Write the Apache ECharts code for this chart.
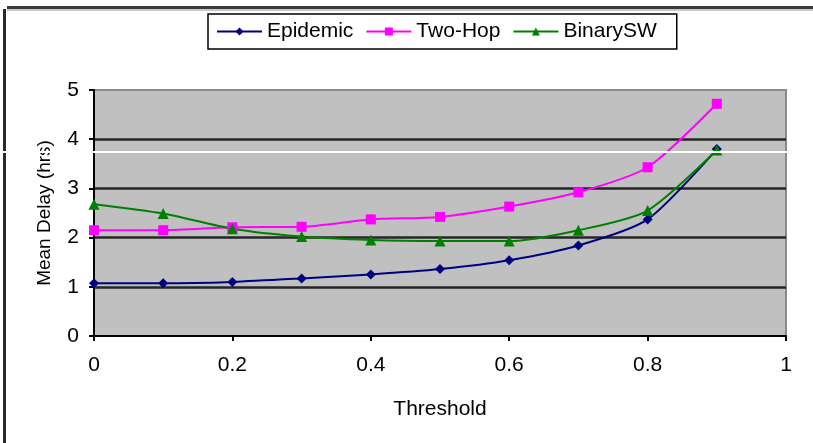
<!DOCTYPE html>
<html>
<head>
<meta charset="utf-8">
<script src="https://cdn.jsdelivr.net/npm/echarts@6/dist/echarts.min.js"></script>
<style>
  html, body { margin: 0; padding: 0; background: #fff; }
  #chart { width: 813px; height: 443px; }
</style>
</head>
<body>
<div id="chart"></div>
<script>
// Threshold values on the x axis
const thresholds = [0, 0.1, 0.2, 0.3, 0.4, 0.5, 0.6, 0.7, 0.8, 0.9];
// Mean delay (hours) per routing scheme
const epidemic  = [1.07, 1.07, 1.10, 1.17, 1.25, 1.36, 1.54, 1.84, 2.37, 3.80];
const twoHop    = [2.15, 2.15, 2.21, 2.22, 2.37, 2.42, 2.63, 2.92, 3.43, 4.72];
const binarySW  = [2.68, 2.49, 2.18, 2.02, 1.95, 1.93, 1.93, 2.15, 2.55, 3.78];
const seriesNames = ['Epidemic', 'Two-Hop', 'BinarySW'];

const FONT = 'Liberation Sans, Arial, sans-serif';

const pairs = arr => thresholds.map((t, i) => [t, arr[i]]);

const chart = echarts.init(document.getElementById('chart'), null, { renderer: 'canvas' });

function lineSeries(name, data, color, symbol, size) {
  return {
    name: name,
    type: 'line',
    data: pairs(data),
    smooth: 0.25,
    symbol: symbol,
    symbolSize: size,
    showSymbol: true,
    lineStyle: { color: color, width: 2 },
    itemStyle: { color: color, borderWidth: 0 },
    emphasis: { disabled: true },
    animation: false
  };
}

chart.setOption({
  animation: false,
  backgroundColor: '#ffffff',
  textStyle: { fontFamily: FONT },
  legend: {
    left: 208,
    top: 14,
    padding: [7, 20, 7, 8],
    itemGap: 12,
    itemWidth: 45,
    itemHeight: 10,
    itemTextGap: 6,
    borderColor: '#000',
    borderWidth: 1.5,
    backgroundColor: '#fff',
    textStyle: { fontFamily: FONT, fontSize: 21, color: '#000' },
    data: seriesNames
  },
  grid: {
    left: 94,
    top: 90,
    width: 692,
    height: 246,
    show: true,
    backgroundColor: '#c0c0c0',
    borderColor: '#8a8a8a',
    borderWidth: 2,
    containLabel: false
  },
  xAxis: {
    type: 'value',
    min: 0,
    max: 1,
    interval: 0.2,
    name: 'Threshold',
    nameLocation: 'middle',
    nameGap: 63,
    nameTextStyle: { fontFamily: FONT, fontSize: 21, color: '#000' },
    axisLine: { show: true, onZero: false, lineStyle: { color: '#000', width: 2 } },
    axisTick: { show: true, length: 5, lineStyle: { color: '#000', width: 2 } },
    axisLabel: { fontFamily: FONT, fontSize: 21, color: '#000', margin: 19 },
    splitLine: { show: false }
  },
  yAxis: {
    type: 'value',
    min: 0,
    max: 5,
    interval: 1,
    name: 'Mean Delay (hrs)',
    nameLocation: 'middle',
    nameGap: 40,
    nameTextStyle: { fontFamily: FONT, fontSize: 19, color: '#000' },
    axisLine: { show: true, lineStyle: { color: '#000', width: 2 } },
    axisTick: { show: true, length: 5, lineStyle: { color: '#000', width: 2 } },
    axisLabel: { fontFamily: FONT, fontSize: 21, color: '#000', margin: 15 },
    splitLine: { show: true, showMaxLine: false, showMinLine: false, lineStyle: { color: '#262626', width: 2.5 } }
  },
  series: [
    lineSeries(seriesNames[0], epidemic, '#000080', 'diamond', 10),
    lineSeries(seriesNames[1], twoHop, '#ff00ff', 'rect', 10),
    lineSeries(seriesNames[2], binarySW, '#008000', 'triangle', 11)
  ],
  graphic: [
    // outer frame: top and left edges
    { type: 'rect', shape: { x: 7, y: 6, width: 806, height: 3 }, style: { fill: '#3c3c3c' }, silent: true },
    { type: 'rect', shape: { x: 7, y: 9, width: 806, height: 2 }, style: { fill: '#c8c8c8' }, silent: true },
    { type: 'rect', shape: { x: 3, y: 9, width: 3, height: 434 }, style: { fill: '#2a2a2a' }, silent: true },
    // thin white band across the figure
    { type: 'rect', z: 100, shape: { x: 0, y: 151, width: 813, height: 2 }, style: { fill: '#ffffff' }, silent: true }
  ]
});
</script>
</body>
</html>
